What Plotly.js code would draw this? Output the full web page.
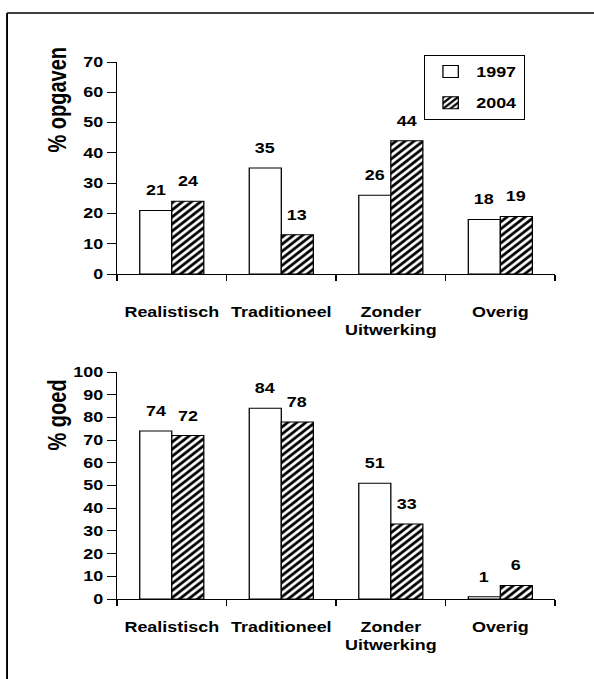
<!DOCTYPE html>
<html>
<head>
<meta charset="utf-8">
<script src="https://cdn.plot.ly/plotly-3.0.1.min.js"></script>
<style>
  html, body { margin: 0; padding: 0; overflow: hidden; background: #fff; }
  #chart { width: 464px; height: 679px; transform: scaleX(1.2802); transform-origin: 0 0; }
</style>
</head>
<body>
<div id="chart"></div>
<script>
// ---- data ----
const categories = ['Realistisch', 'Traditioneel', 'Zonder Uitwerking', 'Overig'];
const tickLabels = ['Realistisch', 'Traditioneel', 'Zonder<br>Uitwerking', 'Overig'];
const seriesNames = ['1997', '2004'];
const opgaven1997 = [21, 35, 26, 18];
const opgaven2004 = [24, 13, 44, 19];
const goed1997 = [74, 84, 51, 1];
const goed2004 = [72, 78, 33, 6];
const yTitleTop = '% opgaven';
const yTitleBottom = '% goed';

// ---- styling ----
const FONT = 'Liberation Sans, Arial, sans-serif';
const W = 464, H = 679;
const boldFont = (size) => ({ family: FONT, size: size, color: '#000', weight: 700 });

const plainMarker = { color: '#ffffff', line: { color: '#000', width: 1 } };
const hatchMarker = {
  color: '#ffffff',
  line: { color: '#000', width: 1 },
  pattern: { shape: '/', fgcolor: '#000', bgcolor: '#ffffff', size: 5, solidity: 0.5 }
};

function bar(name, values, xa, ya, marker, show, group) {
  return {
    type: 'bar', name: name, x: categories, y: values,
    xaxis: xa, yaxis: ya, marker: marker,
    showlegend: show, legendgroup: group, hoverinfo: 'skip'
  };
}

const data = [
  bar(seriesNames[0], opgaven1997, 'x', 'y', plainMarker, true, 'a'),
  bar(seriesNames[1], opgaven2004, 'x', 'y', hatchMarker, true, 'b'),
  bar(seriesNames[0], goed1997, 'x2', 'y2', plainMarker, false, 'a'),
  bar(seriesNames[1], goed2004, 'x2', 'y2', hatchMarker, false, 'b')
];

// value labels above the bars
const annotations = [];
const halfBar = 12.5;
function addLabels(values, xref, yref, shift) {
  values.forEach((v, i) => {
    annotations.push({
      x: categories[i], y: v, xref: xref, yref: yref,
      text: String(v), showarrow: false,
      xshift: shift, yshift: 20, yanchor: 'middle',
      font: boldFont(14)
    });
  });
}
addLabels(opgaven1997, 'x', 'y', -halfBar);
addLabels(opgaven2004, 'x', 'y', halfBar);
addLabels(goed1997, 'x2', 'y2', -halfBar);
addLabels(goed2004, 'x2', 'y2', halfBar);

// axis titles
annotations.push({
  xref: 'paper', yref: 'paper', x: 44.5 / W, y: 1 - 100 / H,
  text: yTitleTop, textangle: -90, showarrow: false,
  xanchor: 'center', yanchor: 'middle', font: boldFont(20)
});
annotations.push({
  xref: 'paper', yref: 'paper', x: 44.5 / W, y: 1 - 415 / H,
  text: yTitleBottom, textangle: -90, showarrow: false,
  xanchor: 'center', yanchor: 'middle', font: boldFont(20)
});

const xDomain = [91.4 / W, 433.6 / W];
function xAxis(anchor, standoff) {
  return {
    domain: xDomain, anchor: anchor, type: 'category',
    tickvals: categories, ticktext: tickLabels, tickangle: 0,
    tickson: 'boundaries', ticks: 'outside', ticklen: 6, tickcolor: '#000',
    showline: true, linecolor: '#000', linewidth: 1,
    showgrid: false, zeroline: false, fixedrange: true,
    tickfont: boldFont(14), ticklabelstandoff: standoff
  };
}
function yAxis(anchor, domain, max) {
  return {
    domain: domain, anchor: anchor, range: [0, max], dtick: 10,
    ticks: 'outside', ticklen: 7, tickcolor: '#000',
    showline: true, linecolor: '#000', linewidth: 1,
    showgrid: false, zeroline: false, fixedrange: true,
    tickfont: boldFont(14)
  };
}

const layout = {
  width: W, height: H,
  margin: { l: 0, r: 0, t: 0, b: 0 },
  paper_bgcolor: '#fff', plot_bgcolor: '#fff',
  barmode: 'group', bargap: 0.415, bargroupgap: 0,
  xaxis: xAxis('y', 25),
  yaxis: yAxis('x', [1 - 274 / H, 1 - 62 / H], 70),
  xaxis2: xAxis('y2', 15),
  yaxis2: yAxis('x2', [1 - 599 / H, 1 - 372 / H], 100),
  showlegend: true,
  legend: {
    x: 410 / W, y: 1 - 55 / H, xanchor: 'right', yanchor: 'top',
    bordercolor: '#000', borderwidth: 1, bgcolor: '#fff',
    font: boldFont(14), traceorder: 'grouped', tracegroupgap: 10
  },
  annotations: annotations,
  shapes: [
    { type: 'line', xref: 'paper', yref: 'paper', x0: 5.5 / W, x1: 5.5 / W, y0: 0, y1: 1 - 13 / H, line: { color: '#000', width: 1.5 } },
    { type: 'line', xref: 'paper', yref: 'paper', x0: 5.5 / W, x1: 1, y0: 1 - 13 / H, y1: 1 - 13 / H, line: { color: '#000', width: 1.5 } }
  ]
};

Plotly.newPlot('chart', data, layout, { displayModeBar: false, staticPlot: true });
</script>
</body>
</html>
